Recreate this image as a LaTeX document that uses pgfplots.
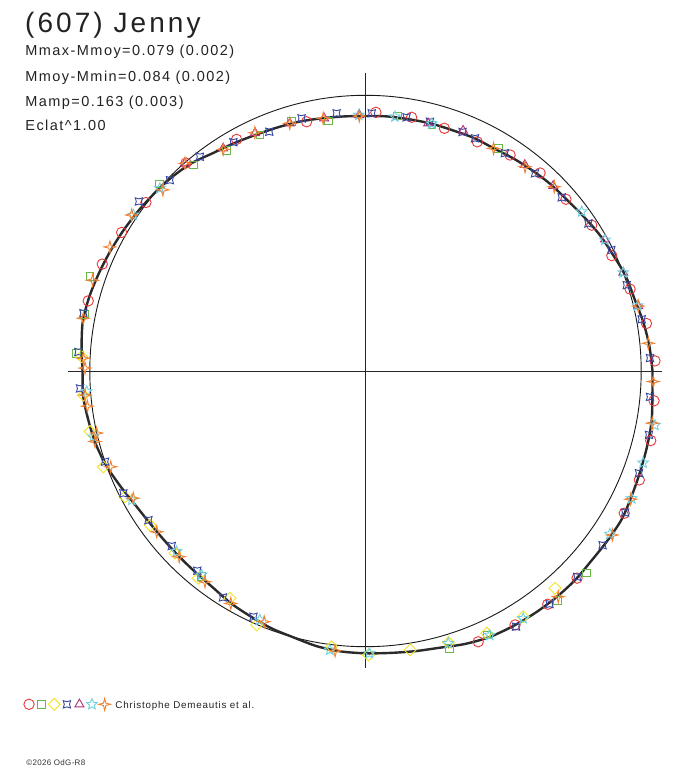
\documentclass[border=0pt]{standalone}
\usepackage{fontspec}
\setmainfont{Liberation Sans}
\newfontfamily\titlefont[LetterSpace=11]{Liberation Sans}
\newfontfamily\infofont[LetterSpace=10]{Liberation Sans}
\newfontfamily\footfont[LetterSpace=8]{Liberation Sans}
\newfontfamily\copyfont[LetterSpace=4]{Liberation Sans}
\usepackage{pgfplots}
\usepgfplotslibrary{polar}
\pgfplotsset{compat=1.18}
\definecolor{txt}{HTML}{222222}
\definecolor{crv}{HTML}{2A2A2A}
\definecolor{cred}{HTML}{E83838}
\definecolor{cgreen}{HTML}{68B848}
\definecolor{cyellow}{HTML}{F0E424}
\definecolor{cblue}{HTML}{3848A0}
\definecolor{cpurple}{HTML}{B03078}
\definecolor{ccyan}{HTML}{70D0E0}
\definecolor{corange}{HTML}{F08030}
\pgfdeclareplotmark{ostar}{%
  \pgfpathmoveto{\pgfpointpolar{90}{\pgfplotmarksize}}%
  \pgfpathlineto{\pgfpointpolar{126}{0.45\pgfplotmarksize}}%
  \pgfpathlineto{\pgfpointpolar{162}{\pgfplotmarksize}}%
  \pgfpathlineto{\pgfpointpolar{198}{0.45\pgfplotmarksize}}%
  \pgfpathlineto{\pgfpointpolar{234}{\pgfplotmarksize}}%
  \pgfpathlineto{\pgfpointpolar{270}{0.45\pgfplotmarksize}}%
  \pgfpathlineto{\pgfpointpolar{306}{\pgfplotmarksize}}%
  \pgfpathlineto{\pgfpointpolar{342}{0.45\pgfplotmarksize}}%
  \pgfpathlineto{\pgfpointpolar{18}{\pgfplotmarksize}}%
  \pgfpathlineto{\pgfpointpolar{54}{0.45\pgfplotmarksize}}%
  \pgfpathclose\pgfusepathqstroke}
\pgfdeclareplotmark{fstar}{%
  \pgfpathmoveto{\pgfpointpolar{90}{\pgfplotmarksize}}%
  \pgfpathlineto{\pgfpointpolar{135}{0.28\pgfplotmarksize}}%
  \pgfpathlineto{\pgfpointpolar{180}{\pgfplotmarksize}}%
  \pgfpathlineto{\pgfpointpolar{225}{0.28\pgfplotmarksize}}%
  \pgfpathlineto{\pgfpointpolar{270}{\pgfplotmarksize}}%
  \pgfpathlineto{\pgfpointpolar{315}{0.28\pgfplotmarksize}}%
  \pgfpathlineto{\pgfpointpolar{0}{\pgfplotmarksize}}%
  \pgfpathlineto{\pgfpointpolar{45}{0.28\pgfplotmarksize}}%
  \pgfpathclose\pgfusepathqstroke}
\pgfdeclareplotmark{astroid}{%
  \pgfpathmoveto{\pgfpointpolar{45}{\pgfplotmarksize}}%
  \pgfpathlineto{\pgfpointpolar{90}{0.5\pgfplotmarksize}}%
  \pgfpathlineto{\pgfpointpolar{135}{\pgfplotmarksize}}%
  \pgfpathlineto{\pgfpointpolar{180}{0.5\pgfplotmarksize}}%
  \pgfpathlineto{\pgfpointpolar{225}{\pgfplotmarksize}}%
  \pgfpathlineto{\pgfpointpolar{270}{0.5\pgfplotmarksize}}%
  \pgfpathlineto{\pgfpointpolar{315}{\pgfplotmarksize}}%
  \pgfpathlineto{\pgfpointpolar{0}{0.5\pgfplotmarksize}}%
  \pgfpathclose\pgfusepathqstroke}
\begin{document}
\begin{tikzpicture}
\useasboundingbox (0,0) rectangle (688bp,768bp);
\begin{axis}[
  at={(0,0)}, anchor=south west,
  x=1bp, y=1bp,
  xmin=-365.5, xmax=322.5, ymin=-397, ymax=371,
  hide axis, clip=false,
  legend style={at={(axis cs:-342.2,-333.3)}, anchor=west,
    draw=none, fill=none, inner sep=0pt, outer sep=0pt,
    legend columns=-1,
    /tikz/every even column/.append style={column sep=0pt},
    /tikz/every odd column/.append style={column sep=0pt},
    nodes={inner sep=0pt, outer sep=0pt}},
  legend image code/.code={\path[draw=none,fill=none] (0bp,0bp) -- (11.5bp,0bp); \draw[#1] plot coordinates {(5.75bp,0bp)};},
]
% reference circle and axes
\draw[line width=0.9bp, color=black!90] (axis cs:0,0) circle [radius=275.7bp];
\draw[line width=0.9bp, color=black!85] (axis cs:0,298) -- (axis cs:0,-297);
\draw[line width=0.9bp, color=black!85] (axis cs:-297.5,0) -- (axis cs:296.5,0);
% lightcurve (angle, radius)
\addplot[data cs=polar, smooth, line width=2.4bp, color=crv, forget plot] coordinates {
(0,287) (5,285) (10,282) (15,278.5) (20,277) (25,273.5) (30,271) (35,267.5)
(40,264.5) (45,263) (50,261) (55,259) (60,257) (65,257) (70,256) (75,256)
(80,255.5) (85,255.5) (90,255) (95,255.5) (100,256.5) (105,258) (110,259) (115,260.5)
(120,263) (125,266) (130,271) (135,274) (140,276) (145,278) (150,280) (155,282)
(160,284) (165,286) (170,287) (175,285) (180,283) (185,283.5) (190,281.5) (195,279.5)
(200,276) (205,271) (210,266.5) (215,264) (220,263) (225,263) (230,263.5) (235,265)
(240,268.5) (245,271) (250,274) (255,276) (260,279.5) (265,281.5) (270,282.3) (275,283)
(280,284.5) (285,286.5) (290,290.5) (295,293.5) (300,294.7) (305,295.5) (310,296) (315,296)
(320,295) (325,295.5) (330,296) (335,294) (340,292.5) (345,291.5) (350,290.5) (355,288)
(360,287)};
% session 1: red circles
\addplot[data cs=polar, only marks, mark=o, mark size=5.2bp, line width=0.9bp, color=cred] coordinates {
(165.8,286) (157.9,284.1) (150.4,280.5) (142.5,276.8) (130.8,274.7) (119.1,265.1) (103.3,256.1)
(87.7,258.9) (79.7,257.9) (72,255.2) (64,255) (56.2,259.9) (48.6,264) (40.6,264) (32.8,269.2)
(25.1,272) (17.2,277) (9.6,285) (2,289.7) (354.1,290.1) (346.3,293.6) (338.3,294.7) (331.2,295.3)
(315.6,296.1) (308,296) (300.5,294.7) (292.6,293.3)};
\addlegendentry{}
% session 2: green squares
\addplot[data cs=polar, only marks, mark=square, mark size=3.9bp, line width=0.9bp, color=cgreen] coordinates {
(106.5,260) (98.5,252.8) (82.9,257) (74.9,254.8) (114.1,258.5) (122.2,260.4) (129.9,268.5)
(137.8,278.4) (161.1,291.2) (59.2,259.3) (168.7,287) (176.6,289.3) (317.6,299.4) (309.9,299.2)
(294.7,290.5) (286.8,289.7) (231.5,263)};
\addlegendentry{}
% session 3: yellow diamonds
\addplot[data cs=polar, only marks, mark=square, mark options={rotate=45}, mark size=4.2bp, line width=0.9bp, color=cyellow] coordinates {
(200.1,279.1) (207.6,271.4) (215.6,264.9) (223.7,263.7) (231.1,266.3) (239.2,264.6) (246.8,276.3)
(177.1,284.2) (184.9,283.2) (192.4,282.1) (263,277.8) (270.6,284) (279.1,282.5) (287,284)
(311.1,288.3) (302.7,292) (294.8,288.9)};
\addlegendentry{}
% session 4: blue
\addplot[data cs=polar, only marks, mark=astroid, mark size=5.2bp, line width=0.9bp, color=cblue] coordinates {
(104.2,260.6) (96.4,259.3) (88.6,257.8) (80.8,257) (75.5,257.5) (67.9,258) (64.8,257.2) (57.4,258.6)
(49.4,260.4) (41.5,262) (33.5,267.3) (26.2,274) (18.2,275) (10.6,281) (2.6,284.8) (354.8,285.7)
(347.3,290.6) (339.5,292) (331.4,295.7) (323.7,294.2) (315.8,295.2) (308.3,297) (300.5,296.7)
(111.9,257.9) (120,264.2) (127.7,270.8) (135.7,273.3) (143.2,283) (168.4,288) (176.2,287.8)
(183.5,286) (199.2,275.8) (206.8,271.3) (214.5,263.4) (222.1,261.1) (229.9,261.1) (237.8,267.6)
(245.5,270.1)};
\addlegendentry{}
% session 5: purple triangles
\addplot[data cs=polar, only marks, mark=triangle, mark size=5.2bp, line width=0.9bp, color=cpurple] coordinates {
(107,259) (99.3,256.1) (91.4,256.1) (75.8,255.5) (67.9,259.4) (52.3,260.5) (44.6,263.6)
(28.8,273.3) (20.9,275.9) (13.4,280.4) (131,275.2) (122.6,264.2) (114.9,262.4)};
\addlegendentry{}
% session 6: cyan stars
\addplot[data cs=polar, only marks, mark=ostar, mark size=5.6bp, line width=0.9bp, color=ccyan] coordinates {
(91.5,256.1) (83.4,256) (75,256) (36.4,268.6) (28.7,273) (20.9,275.9) (13.5,280) (349.4,294.5)
(341.7,292.4) (334.4,295.1) (326.3,293.8) (302.5,293.4) (295.2,291.9) (286.9,284.6) (270.8,282.3)
(262.7,281.2) (247,270.4) (231.2,261.6) (223.7,261.3) (208.9,267) (193.6,280) (184.2,279.6)
(146.1,279.7) (138.4,275)};
\addlegendentry{}
% session 7: orange 4-point stars
\addplot[data cs=polar, only marks, mark=fstar, mark size=6bp, line width=0.9bp, color=corange] coordinates {
(194.6,279.6) (200.6,272.2) (208.7,264.8) (217.6,263.5) (224.9,263) (232.7,264.9) (239.9,268.6)
(248,270.4) (169.4,287.1) (177.4,282.5) (179.4,280.5) (184.9,281.5) (187.2,280.4) (193,275.9)
(161.6,287.6) (154.1,284.1) (146.3,281.1) (138.2,271.8) (131,275.2) (122.7,263.4) (114.9,262.7)
(107,259) (99.5,256.2) (91.4,255.1) (60.1,256.8) (52,259.2) (44.3,263.8) (13.4,280.4) (5.6,284.2)
(357.9,288) (349.7,291.5) (334.2,294.6) (326.4,296.3) (310.5,296.8) (263.8,281.4)};
\addlegendentry{}
% texts
\node[anchor=base west, inner sep=0pt, text=txt, font={\titlefont\fontsize{28bp}{32bp}\selectfont}] at (axis cs:-340.6,338.7) {(607) Jenny};
\node[anchor=base west, inner sep=0pt, text=txt, font={\infofont\fontsize{14.5bp}{17bp}\selectfont}] at (axis cs:-340.3,315) {Mmax-Mmoy=0.079 (0.002)};
\node[anchor=base west, inner sep=0pt, text=txt, font={\infofont\fontsize{14.5bp}{17bp}\selectfont}] at (axis cs:-340.3,289.5) {Mmoy-Mmin=0.084 (0.002)};
\node[anchor=base west, inner sep=0pt, text=txt, font={\infofont\fontsize{14.5bp}{17bp}\selectfont}] at (axis cs:-340.3,264.5) {Mamp=0.163 (0.003)};
\node[anchor=base west, inner sep=0pt, text=txt, font={\infofont\fontsize{14.5bp}{17bp}\selectfont}] at (axis cs:-340.3,240.5) {Eclat\^{}1.00};
\node[anchor=base west, inner sep=0pt, text=txt, font={\footfont\fontsize{9.8bp}{12bp}\selectfont}] at (axis cs:-250.3,-338) {Christophe Demeautis et al.};
\node[anchor=base west, inner sep=0pt, text=black!80, font={\copyfont\fontsize{8bp}{10bp}\selectfont}] at (axis cs:-339.3,-395) {©2026 OdG-R8};
\end{axis}
\end{tikzpicture}
\end{document}
